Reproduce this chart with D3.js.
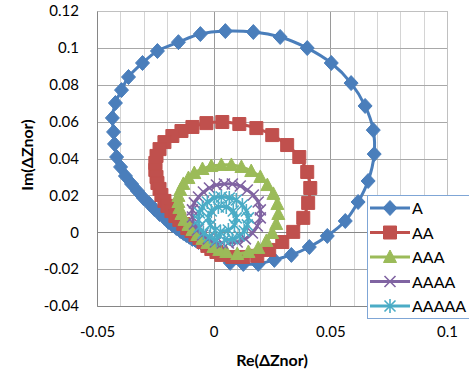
<!DOCTYPE html>
<html>
<head>
<meta charset="utf-8">
<script src="https://cdn.jsdelivr.net/npm/d3@7"></script>
<style>
  body { margin: 0; background: #fff; }
  svg { font-family: Lato, "Liberation Sans", sans-serif; }
</style>
</head>
<body>
<div id="chart"></div>
<script>
// series values (Re, Im)
var aRe = [0.0071,0.0127,0.0191,0.0260,0.0333,0.0410,0.0487,0.0564,0.0619,0.0662,0.0688,0.0684,0.0649,0.0589,0.0504,0.0401,0.0285,0.0170,0.0050,-0.0057,-0.0151,-0.0241,-0.0305,-0.0365,-0.0395,-0.0421,-0.0434,-0.0429,-0.0425,-0.0416,-0.0399,-0.0378,-0.0352,-0.0327,-0.0301,-0.0275,-0.0254,-0.0232,-0.0211,-0.0194,-0.0177,-0.0160,-0.0143,-0.0130,-0.0117,-0.0104,-0.0091,-0.0078,-0.0065,-0.0053];
var aIm = [-0.0166,-0.0172,-0.0172,-0.0150,-0.0123,-0.0080,-0.0020,0.0061,0.0164,0.0278,0.0424,0.0554,0.0685,0.0809,0.0918,0.0999,0.1059,0.1086,0.1091,0.1075,0.1031,0.0983,0.0918,0.0842,0.0771,0.0701,0.0620,0.0544,0.0479,0.0408,0.0354,0.0305,0.0262,0.0224,0.0186,0.0153,0.0126,0.0099,0.0078,0.0056,0.0040,0.0023,0.0007,-0.0004,-0.0015,-0.0025,-0.0036,-0.0042,-0.0053,-0.0058];

var aaRe = [0.0080,0.0127,0.0187,0.0238,0.0294,0.0341,0.0384,0.0405,0.0414,0.0401,0.0367,0.0315,0.0251,0.0183,0.0110,0.0037,-0.0031,-0.0091,-0.0138,-0.0177,-0.0211,-0.0232,-0.0245,-0.0250,-0.0250,-0.0245,-0.0241,-0.0232,-0.0224,-0.0211,-0.0198,-0.0181,-0.0164,-0.0147,-0.0130,-0.0113,-0.0095,-0.0078,-0.0061,-0.0044,-0.0027,-0.0010,0.0012,0.0033];
var aaIm = [-0.0134,-0.0134,-0.0128,-0.0096,-0.0053,0.0002,0.0078,0.0159,0.0240,0.0327,0.0408,0.0473,0.0527,0.0565,0.0587,0.0598,0.0592,0.0571,0.0549,0.0522,0.0489,0.0451,0.0414,0.0376,0.0338,0.0300,0.0267,0.0235,0.0202,0.0170,0.0143,0.0115,0.0088,0.0067,0.0045,0.0023,0.0007,-0.0015,-0.0031,-0.0053,-0.0074,-0.0091,-0.0107,-0.0123];

var aaaRe = [0.0101,0.0149,0.0191,0.0226,0.0251,0.0268,0.0277,0.0273,0.0256,0.0230,0.0200,0.0161,0.0119,0.0076,0.0033,-0.0010,-0.0048,-0.0083,-0.0108,-0.0130,-0.0143,-0.0151,-0.0151,-0.0147,-0.0138,-0.0125,-0.0108,-0.0091,-0.0070,-0.0048,-0.0027,-0.0001,0.0024,0.0054];
var aaaIm = [-0.0118,-0.0107,-0.0085,-0.0047,-0.0004,0.0045,0.0099,0.0153,0.0208,0.0256,0.0300,0.0332,0.0354,0.0365,0.0365,0.0359,0.0343,0.0321,0.0294,0.0262,0.0229,0.0197,0.0164,0.0132,0.0099,0.0067,0.0040,0.0012,-0.0015,-0.0036,-0.0058,-0.0080,-0.0096,-0.0107];

var aaaaRe = [0.0063,0.0101,0.0136,0.0166,0.0187,0.0200,0.0200,0.0191,0.0170,0.0144,0.0114,0.0080,0.0046,0.0012,-0.0018,-0.0044,-0.0065,-0.0083,-0.0091,-0.0091,-0.0083,-0.0070,-0.0048,-0.0023,0.0007,0.0037];
var aaaaIm = [-0.0058,-0.0053,-0.0036,-0.0004,0.0034,0.0078,0.0121,0.0164,0.0202,0.0229,0.0251,0.0262,0.0262,0.0256,0.0240,0.0218,0.0191,0.0159,0.0121,0.0083,0.0045,0.0012,-0.0015,-0.0036,-0.0053,-0.0058];

var aaaaaRe = [0.0046,0.0080,0.0110,0.0131,0.0144,0.0149,0.0140,0.0123,0.0097,0.0067,0.0033,0.0003,-0.0027,-0.0048,-0.0061,-0.0065,-0.0061,-0.0044,-0.0018,0.0012,0.0029,0.0063,0.0089,0.0097,0.0084,0.0054,0.0020,-0.0010,-0.0023,-0.0014,0.0007];
var aaaaaIm = [-0.0042,-0.0036,-0.0020,0.0007,0.0040,0.0078,0.0115,0.0148,0.0175,0.0186,0.0191,0.0186,0.0164,0.0137,0.0105,0.0067,0.0029,-0.0004,-0.0025,-0.0042,0.0002,0.0012,0.0040,0.0078,0.0115,0.0137,0.0137,0.0115,0.0078,0.0040,0.0012];

var seriesNames = ["A", "AA", "AAA", "AAAA", "AAAAA"];
var seriesColors = ["#4a7ebb", "#c0504d", "#9bbb59", "#8064a2", "#4bacc6"];
var seriesMarkers = ["diamond", "square", "triangle", "x", "star"];
var seriesRe = [aRe, aaRe, aaaRe, aaaaRe, aaaaaRe];
var seriesIm = [aIm, aaIm, aaaIm, aaaaIm, aaaaaIm];

var xTicks = [-0.05, 0, 0.05, 0.1];
var yTicks = [-0.04, -0.02, 0, 0.02, 0.04, 0.06, 0.08, 0.1, 0.12];
var xMinor = d3.range(-0.05, 0.1001, 0.01);

var svgWidth = 469, svgHeight = 373;
var margin = {top: 11, left: 97, right: 22, bottom: 67};
var width = svgWidth - margin.left - margin.right;   // 350
var height = svgHeight - margin.top - margin.bottom; // 295

var svg = d3.select("#chart").append("svg")
  .attr("width", svgWidth)
  .attr("height", svgHeight);

var chartGroup = svg.append("g")
  .attr("transform", `translate(${margin.left}, ${margin.top})`);

var x = d3.scaleLinear().domain([-0.05, 0.1]).range([0, width]);
var y = d3.scaleLinear().domain([-0.04, 0.12]).range([height, 0]);

// minor vertical grid
chartGroup.append("g").selectAll("line")
  .data(xMinor)
  .enter().append("line")
  .attr("x1", d => Math.round(x(d)) + 0.5).attr("x2", d => Math.round(x(d)) + 0.5)
  .attr("y1", 0).attr("y2", height)
  .attr("stroke", d => Math.abs(d) < 1e-9 || Math.abs(d - 0.05) < 1e-9 ? "#9a9a9a" : "#d4d4d4")
  .attr("stroke-width", 1);

// horizontal grid
chartGroup.append("g").selectAll("line")
  .data(yTicks)
  .enter().append("line")
  .attr("x1", 0).attr("x2", width)
  .attr("y1", d => Math.round(y(d)) + 0.5).attr("y2", d => Math.round(y(d)) + 0.5)
  .attr("stroke", d => d === 0 ? "#868686" : "#a8a8a8")
  .attr("stroke-width", 1);

// plot border
chartGroup.append("rect")
  .attr("x", 0.5).attr("y", 0.5)
  .attr("width", width).attr("height", height)
  .attr("fill", "none").attr("stroke", "#c0c0c0");

// axes
var bottomAxis = d3.axisBottom(x).tickValues(xTicks).tickSize(0).tickPadding(20)
  .tickFormat(d => d === 0 ? "0" : String(+d.toFixed(2)));
var leftAxis = d3.axisLeft(y).tickValues(yTicks).tickSize(0).tickPadding(18)
  .tickFormat(d => d === 0 ? "0" : String(+d.toFixed(2)));

var xAxis = chartGroup.append("g")
  .attr("transform", `translate(0, ${height})`)
  .call(bottomAxis);
var yAxis = chartGroup.append("g")
  .call(leftAxis);

[xAxis, yAxis].forEach(function(a) {
  a.select(".domain").attr("stroke", "#868686");
  a.selectAll("text").attr("fill", "#000").style("font-size", "15px")
    .style("font-family", "Lato, sans-serif");
});

// marker shapes
function markerPath(type) {
  switch (type) {
    case "diamond": return "M0,-7.5L7,0L0,7.5L-7,0Z";
    case "square": return "M-6.5,-6.5H6.5V6.5H-6.5Z";
    case "triangle": return "M0,-7L6.5,5.5H-6.5Z";
    case "x": return "M-5.5,-5.5L5.5,5.5M-5.5,5.5L5.5,-5.5";
    case "star": return "M-5.5,-5.5L5.5,5.5M-5.5,5.5L5.5,-5.5M0,-7V7";
  }
}

// series: line then markers, in order
seriesNames.forEach(function(name, i) {
  var pts = seriesRe[i].map((re, j) => [re, seriesIm[i][j]]);
  var g = chartGroup.append("g");
  g.append("path")
    .datum(pts)
    .attr("fill", "none")
    .attr("stroke", seriesColors[i])
    .attr("stroke-width", 3)
    .attr("stroke-linejoin", "round")
    .attr("d", d3.line().x(d => x(d[0])).y(d => y(d[1])).curve(d3.curveCatmullRom));
  var filled = ["diamond", "square", "triangle"].indexOf(seriesMarkers[i]) >= 0;
  g.selectAll("path.mk")
    .data(pts)
    .enter().append("path")
    .attr("class", "mk")
    .attr("transform", d => `translate(${x(d[0])}, ${y(d[1])})`)
    .attr("d", markerPath(seriesMarkers[i]))
    .attr("fill", filled ? seriesColors[i] : "none")
    .attr("stroke", seriesColors[i])
    .attr("stroke-width", filled ? 1 : 1.6);
});

// axis titles
svg.append("text")
  .attr("x", margin.left + width / 2).attr("y", 366)
  .attr("text-anchor", "middle")
  .style("font-size", "16px").style("font-weight", "bold")
  .text("Re(ΔZnor)");

svg.append("text")
  .attr("transform", "translate(33, 155) rotate(-90)")
  .attr("text-anchor", "middle")
  .style("font-size", "16px").style("font-weight", "bold")
  .text("Im(ΔZnor)");

// legend
var legend = svg.append("g").attr("transform", "translate(367, 195)");
legend.append("rect")
  .attr("x", 0.5).attr("y", 0.5)
  .attr("width", 120).attr("height", 123)
  .attr("fill", "#fff").attr("stroke", "#7fa6d6");

seriesNames.forEach(function(name, i) {
  var ly = 13 + i * 24.5;
  var row = legend.append("g").attr("transform", `translate(0, ${ly})`);
  row.append("line")
    .attr("x1", 3).attr("x2", 43).attr("y1", 0).attr("y2", 0)
    .attr("stroke", seriesColors[i]).attr("stroke-width", 3);
  var filled = ["diamond", "square", "triangle"].indexOf(seriesMarkers[i]) >= 0;
  row.append("path")
    .attr("transform", "translate(23, 0)")
    .attr("d", markerPath(seriesMarkers[i]))
    .attr("fill", filled ? seriesColors[i] : "none")
    .attr("stroke", seriesColors[i])
    .attr("stroke-width", filled ? 1 : 1.6);
  row.append("text")
    .attr("x", 45).attr("y", 6)
    .style("font-size", "16px")
    .text(name);
});
</script>
</body>
</html>
